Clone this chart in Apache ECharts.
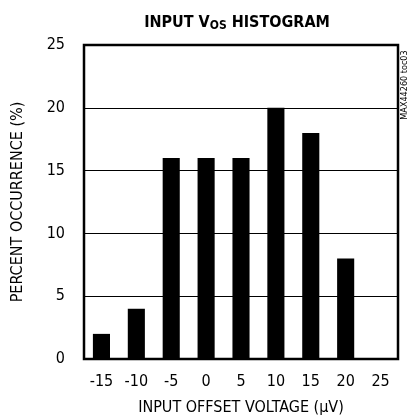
<!DOCTYPE html>
<html><head><meta charset="utf-8">
<script src="https://cdn.jsdelivr.net/npm/echarts@6/dist/echarts.min.js"></script>
<style>html,body{margin:0;padding:0;background:#fff}#c{width:412px;height:416px}</style>
</head><body><div id="c"></div>
<script>
const categories = ['-15','-10','-5','0','5','10','15','20','25'];
const percentValues = [2, 4, 16, 16, 16, 20, 18, 8, 0];
const yTicks = [0, 5, 10, 15, 20, 25];
const FONT = "'Liberation Sans Narrow', 'DejaVu Sans Condensed', Arial, sans-serif";

const chart = echarts.init(document.getElementById('c'), null, {renderer: 'canvas'});
chart.setOption({
  animation: false,
  backgroundColor: '#fff',
  title: {
    text: 'INPUT V{sub|OS} HISTOGRAM',
    left: 232, top: 9, textAlign: 'center',
    textStyle: {
      fontFamily: FONT, fontWeight: 'bold', fontSize: 16, color: '#000',
      rich: { sub: { fontFamily: FONT, fontWeight: 'bold', fontSize: 12, color: '#000', padding: [6, 0, 0, 0] } }
    }
  },
  grid: { left: 84, right: 14, top: 45, bottom: 57, outerBoundsMode: 'none', containLabel: false, show: true, borderColor: '#000', borderWidth: 2.5, backgroundColor: 'transparent' },
  xAxis: {
    type: 'category', data: categories,
    axisLine: { show: false }, axisTick: { show: false },
    axisLabel: { color: '#000', fontFamily: FONT, fontSize: 16, margin: 15 },
    name: 'INPUT OFFSET VOLTAGE (µV)', nameLocation: 'middle', nameGap: 41,
    nameTextStyle: { color: '#000', fontFamily: FONT, fontSize: 16 }
  },
  yAxis: {
    type: 'value', min: yTicks[0], max: yTicks[yTicks.length - 1], interval: 5,
    axisLine: { show: false }, axisTick: { show: false },
    splitLine: { show: true, lineStyle: { color: '#000', width: 1 } },
    axisLabel: { color: '#000', fontFamily: FONT, fontSize: 16, margin: 19 },
    name: 'PERCENT OCCURRENCE (%)', nameLocation: 'middle', nameGap: 58, nameRotate: 90,
    nameTextStyle: { color: '#000', fontFamily: FONT, fontSize: 16 }
  },
  series: [{
    type: 'bar', data: percentValues, barWidth: '49%',
    itemStyle: { color: '#000' }
  }],
  graphic: [{
    type: 'text', x: 405, y: 85, rotation: Math.PI / 2,
    style: { text: 'MAX44260 toc03', fill: '#000', font: "9px " + FONT, align: 'center', verticalAlign: 'middle' }
  }]
});
</script></body></html>
